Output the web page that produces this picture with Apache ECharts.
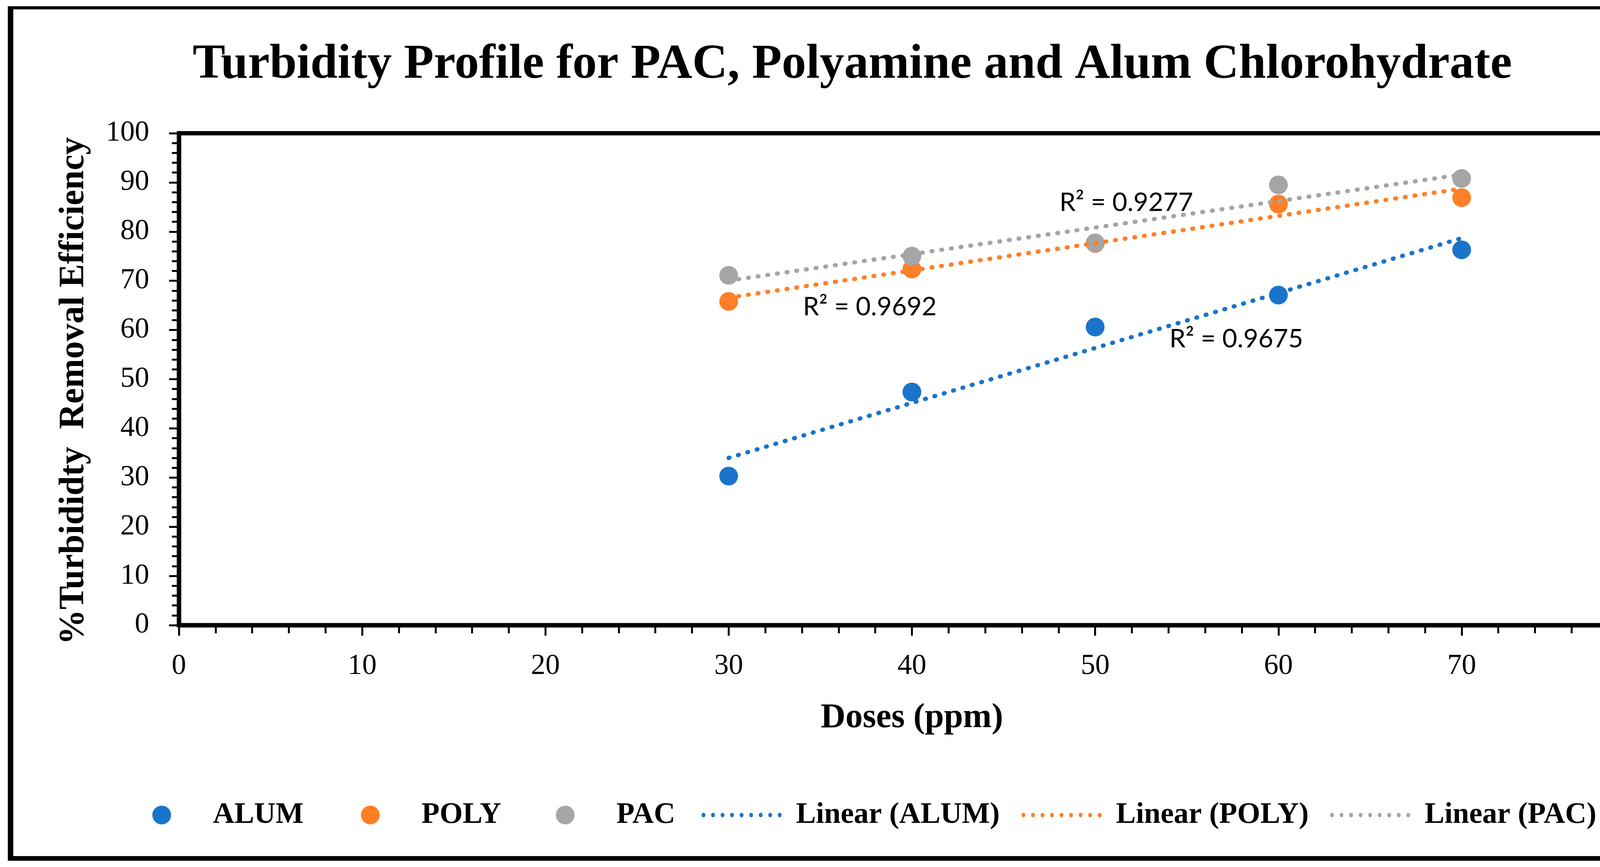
<!DOCTYPE html>
<html>
<head>
<meta charset="utf-8">
<script src="https://cdn.jsdelivr.net/npm/echarts@6/dist/echarts.min.js"></script>
<style>
html,body{margin:0;padding:0;background:#fff;}
#chart{width:4364px;height:2219px;}
</style>
</head>
<body>
<div id="chart"></div>
<script>
// ---- data ----
var doses = [30, 40, 50, 60, 70];
var alum = [30.3, 47.4, 60.6, 67.1, 76.3];
var poly = [65.8, 72.4, 77.6, 85.6, 86.9];
var pac  = [71.1, 75.0, 77.7, 89.5, 90.8];
var seriesNames = ['ALUM', 'POLY', 'PAC'];
var trendNames = ['Linear (ALUM)', 'Linear (POLY)', 'Linear (PAC)'];
var r2Text = ['R\u00b2 = 0.9675', 'R\u00b2 = 0.9692', 'R\u00b2 = 0.9277'];
var r2Pos = [[57.7, 58.2], [37.7, 64.7], [51.7, 85.9]];
var xTicks = [0, 80, 10];
var yTicks = [0, 100, 10];
var colors = ['#1A74C9', '#FF7F27', '#A5A5A5'];

function fit(xs, ys) {
  var n = xs.length, mx = 0, my = 0;
  for (var i = 0; i < n; i++) { mx += xs[i]; my += ys[i]; }
  mx /= n; my /= n;
  var sxy = 0, sxx = 0;
  for (var j = 0; j < n; j++) { sxy += (xs[j]-mx)*(ys[j]-my); sxx += (xs[j]-mx)*(xs[j]-mx); }
  var b = sxy / sxx, a = my - b*mx;
  var x0 = xs[0], x1 = xs[n-1];
  return [[x0, a + b*x0], [x1, a + b*x1]];
}
function pairs(xs, ys) { return xs.map(function (x, i) { return [x, ys[i]]; }); }

// dotted-line legend icon (9 round dots)
function dotsPath() {
  var p = 'path://';
  for (var i = 0; i < 9; i++) {
    var cx = 6 + 25 * i;
    p += 'M' + (cx - 5) + ',6 A5,6 0 1,0 ' + (cx + 5) + ',6 A5,6 0 1,0 ' + (cx - 5) + ',6 Z ';
  }
  return p;
}
var dotIcon = dotsPath();

var allY = [alum, poly, pac];
var serif = 'Liberation Serif';
var series = [];
for (var k = 0; k < 3; k++) {
  series.push({
    name: seriesNames[k], type: 'scatter', symbol: 'circle', symbolSize: 48,
    itemStyle: { color: colors[k], opacity: 1 }, z: 3,
    data: pairs(doses, allY[k])
  });
}
for (var t = 0; t < 3; t++) {
  series.push({
    name: trendNames[t], type: 'line', symbol: 'none', showSymbol: false, z: 4,
    lineStyle: { color: colors[t], width: 11, type: [2, 23], cap: 'round' },
    itemStyle: { color: colors[t] },
    data: fit(doses, allY[t]),
    markPoint: {
      symbol: 'circle', symbolSize: 1, itemStyle: { color: 'rgba(0,0,0,0)' },
      label: { show: true, position: 'inside', color: '#000', fontFamily: 'Lato', fontSize: 66,
               formatter: r2Text[t] },
      data: [{ coord: r2Pos[t] }]
    }
  });
}

var scatterLefts = [390, 924, 1423];
var lineLefts = [1796, 2615, 3405];
var legends = [];
for (var s = 0; s < 3; s++) {
  legends.push({
    data: [{ name: seriesNames[s], icon: 'circle' }], left: scatterLefts[s], top: 2048, padding: 0,
    itemWidth: 48, itemHeight: 48, selectedMode: false,
    textStyle: { fontFamily: serif, fontWeight: 'bold', fontSize: 76, color: '#000', padding: [0, 0, 0, 102] }
  });
  legends.push({
    data: [{ name: trendNames[s], icon: dotIcon, itemStyle: { color: colors[s] } }],
    left: lineLefts[s], top: 2048, padding: 0,
    itemWidth: 205, itemHeight: 48, selectedMode: false,
    textStyle: { fontFamily: serif, fontWeight: 'bold', fontSize: 76, color: '#000', padding: [0, 0, 0, 32] }
  });
}

var chart = echarts.init(document.getElementById('chart'), null, { renderer: 'canvas' });
chart.setOption({
  backgroundColor: '#fff',
  animation: false,
  title: {
    text: 'Turbidity Profile for PAC, Polyamine and Alum Chlorohydrate',
    left: 'center', top: 104, padding: 0,
    textStyle: { fontFamily: serif, fontWeight: 'bold', fontSize: 125, color: '#000' }
  },
  legend: legends,
  grid: { left: 458, top: 341, right: 153, bottom: 619, show: true, borderColor: '#000', borderWidth: 11 },
  xAxis: {
    type: 'value', min: xTicks[0], max: xTicks[1], interval: xTicks[2],
    name: 'Doses (ppm)', nameLocation: 'middle', nameGap: 194,
    nameTextStyle: { fontFamily: serif, fontWeight: 'bold', fontSize: 88, color: '#000' },
    axisLine: { show: true, lineStyle: { color: '#000', width: 11 } },
    axisTick: { show: true, length: 27, lineStyle: { color: '#000', width: 5 } },
    minorTick: { show: true, splitNumber: 5, length: 21, lineStyle: { color: '#000', width: 5 } },
    splitLine: { show: false },
    axisLabel: { fontFamily: serif, fontSize: 74, color: '#000', margin: 69 }
  },
  yAxis: {
    type: 'value', min: yTicks[0], max: yTicks[1], interval: yTicks[2],
    name: '%Turbididty  Removal Efficiency', nameLocation: 'middle', nameGap: 223,
    nameTextStyle: { fontFamily: serif, fontWeight: 'bold', fontSize: 90, color: '#000', padding: [0, 60, 0, 0] },
    axisLine: { show: true, lineStyle: { color: '#000', width: 11 } },
    axisTick: { show: true, length: 25, lineStyle: { color: '#000', width: 5 } },
    minorTick: { show: true, splitNumber: 5, length: 18, lineStyle: { color: '#000', width: 5 } },
    splitLine: { show: false },
    axisLabel: { fontFamily: serif, fontSize: 74, color: '#000', margin: 76 }
  },
  graphic: [
    { type: 'line', shape: { x1: 20, y1: 20, x2: 4348, y2: 20 }, style: { stroke: '#000', lineWidth: 8 } },
    { type: 'line', shape: { x1: 27, y1: 16, x2: 27, y2: 2203 }, style: { stroke: '#000', lineWidth: 14 } },
    { type: 'line', shape: { x1: 4341, y1: 16, x2: 4341, y2: 2203 }, style: { stroke: '#000', lineWidth: 13 } },
    { type: 'line', shape: { x1: 20, y1: 2197, x2: 4348, y2: 2197 }, style: { stroke: '#000', lineWidth: 12 } }
  ],
  series: series
});
</script>
</body>
</html>
